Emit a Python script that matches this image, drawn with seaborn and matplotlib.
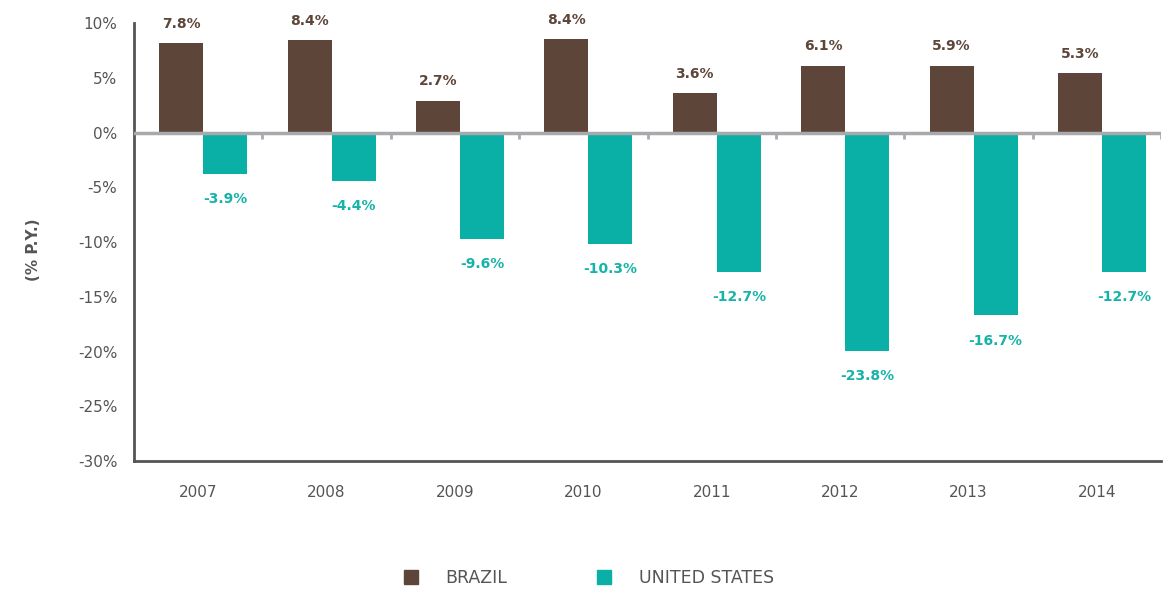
import pandas as pd
import seaborn as sns
import matplotlib.pyplot as plt
from matplotlib.lines import Line2D

years = ['2007', '2008', '2009', '2010', '2011', '2012', '2013', '2014']
countries = ['BRAZIL', 'UNITED STATES']
# bar heights as drawn in the picture
brazil = [8.15, 8.4, 2.9, 8.5, 3.6, 6.1, 6.1, 5.4]
united_states = [-3.8, -4.4, -9.75, -10.2, -12.7, -19.9, -16.7, -12.7]
# values printed on the bars
brazil_labels = ['7.8%', '8.4%', '2.7%', '8.4%', '3.6%', '6.1%', '5.9%', '5.3%']
us_labels = ['-3.9%', '-4.4%', '-9.6%', '-10.3%', '-12.7%', '-23.8%', '-16.7%', '-12.7%']
y_ticks = [10, 5, 0, -5, -10, -15, -20, -25, -30]

brown = '#5E4539'
teal = '#0AB0A5'
grey = '#555555'

df = pd.DataFrame({
    'year': years * 2,
    'country': [countries[0]] * len(years) + [countries[1]] * len(years),
    'value': brazil + united_states,
})

sns.set_style('white')
plt.rcParams['font.family'] = ['DejaVu Sans']

fig = plt.figure(figsize=(11.71, 5.89), dpi=100)
ax = fig.add_axes([0.1144, 0.217, 0.8771, 0.744])

sns.barplot(data=df, x='year', y='value', hue='country', hue_order=countries,
            palette=[brown, teal], width=0.686, saturation=1, linewidth=0,
            ax=ax, legend=False)

for bar in ax.patches:
    bar.set_x(bar.get_x() + 0.04)

ax.bar_label(ax.containers[0], labels=brazil_labels, padding=9, color=brown,
             fontsize=10, fontweight='bold')
ax.bar_label(ax.containers[1], labels=us_labels, padding=13, color='#16B3A8',
             fontsize=10, fontweight='bold')

ax.set_xlim(-0.5, len(years) - 0.5)
ax.set_ylim(-30, 10)
ax.set_yticks(y_ticks)
ax.set_yticklabels([f'{t}%' for t in y_ticks])
ax.set_xlabel('')
ax.set_ylabel('(% P.Y.)', fontsize=11, fontweight='bold', color=grey)
ax.yaxis.set_label_coords(-0.0906, 0.482)

bounds = [i - 0.5 for i in range(len(years) + 1)]
ax.set_xticks(bounds, minor=True)
ax.tick_params(axis='x', which='major', length=0, pad=17, labelsize=11, labelcolor=grey)
ax.tick_params(axis='x', which='minor', length=6, width=2, color=grey, direction='out')
ax.tick_params(axis='y', length=6, width=2, color=grey, labelsize=11, labelcolor=grey, pad=6)

# zero line with small ticks at category boundaries
ax.axhline(0, color='#A7A9AC', lw=2.5, zorder=3)
ax.vlines(bounds[1:], -0.55, 0, color='#A7A9AC', lw=2, zorder=3)

for side in ['top', 'right']:
    ax.spines[side].set_visible(False)
for side in ['left', 'bottom']:
    ax.spines[side].set_color(grey)
    ax.spines[side].set_linewidth(2)

handles = [Line2D([], [], marker='s', color=c, linestyle='', markersize=9.5) for c in [brown, teal]]
fig.legend(handles, countries, loc='center', bbox_to_anchor=(0.503, 0.019), ncol=2,
           frameon=False, handlelength=0.8, handletextpad=1.6, columnspacing=5.2,
           prop={'size': 12.5}, labelcolor=grey)

fig.savefig('out.png', dpi=100)
